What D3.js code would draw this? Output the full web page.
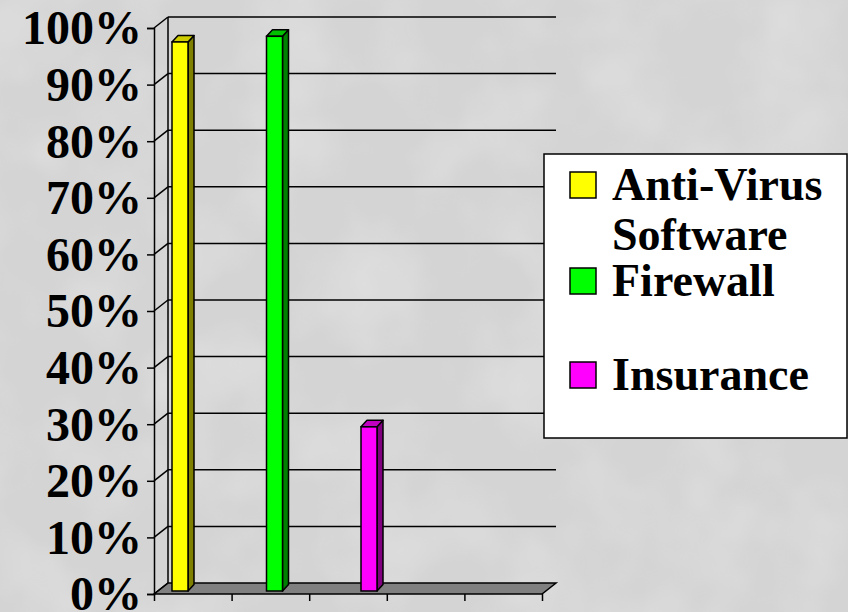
<!DOCTYPE html>
<html>
<head>
<meta charset="utf-8">
<script src="https://cdn.jsdelivr.net/npm/d3@7"></script>
<style>
  html, body { margin: 0; padding: 0; background: #d9d9d9; }
  svg { display: block; }
</style>
</head>
<body>
<div id="chart"></div>
<script>
'use strict';
// values
const series = ["Anti-Virus Software", "Firewall", "Insurance"];
const values = [97, 98, 29];
const frontColors = ["#ffff00", "#00ff00", "#ff00ff"];
const sideColors = ["#808000", "#008000", "#800080"];
const topColors = ["#cccc00", "#00c000", "#c000c0"];
const yTicks = [0, 10, 20, 30, 40, 50, 60, 70, 80, 90, 100];
const legendLines = [["Anti-Virus", "Software"], ["Firewall"], ["Insurance"]];

const W = 848, H = 612;
const FONT = "'Liberation Serif', 'Times New Roman', Times, serif";
const svg = d3.select("#chart").append("svg").attr("width", W).attr("height", H);

// mottled grey backdrop
const defs = svg.append("defs");
const filt = defs.append("filter").attr("id", "mottle").attr("x", 0).attr("y", 0).attr("width", 1).attr("height", 1);
filt.append("feTurbulence").attr("type", "fractalNoise").attr("baseFrequency", 0.012).attr("numOctaves", 3).attr("seed", 4);
filt.append("feColorMatrix").attr("type", "matrix")
  .attr("values", "0 0 0 0 1  0 0 0 0 1  0 0 0 0 1  0.9 0 0 0 -0.35");
svg.append("rect").attr("width", W).attr("height", H).attr("fill", "#d4d4d4");
svg.append("rect").attr("width", W).attr("height", H).attr("filter", "url(#mottle)").attr("opacity", 0.5);

// front plane geometry
const x0 = 154, xEnd = 542;
const depth = { dx: 14, dy: -11 };
const y = d3.scaleLinear().domain([0, 100]).range([594, 28]);
const xCat = d3.scaleLinear().domain([0, 5]).range([x0, xEnd]);
const xBar = d3.scalePoint().domain(series).range([176, 365]);
const barW = 16;
const barOff = { dx: 4, dy: -3 };
const barDepth = { dx: 6, dy: -6.5 };

const g = svg.append("g");
const line = d3.line();

// floor
g.append("path")
  .attr("d", line([[x0, y(0)], [x0 + depth.dx, y(0) + depth.dy],
    [xEnd + depth.dx, y(0) + depth.dy], [xEnd, y(0)]]) + "Z")
  .attr("fill", "#808080").attr("stroke", "#000").attr("stroke-width", 1.5);

// back wall gridlines and left wall
yTicks.forEach(function (v) {
  if (v > 0) {
    g.append("path")
      .attr("d", line([[x0 + depth.dx, y(v) + depth.dy], [xEnd + depth.dx, y(v) + depth.dy]]))
      .attr("stroke", "#000").attr("stroke-width", 1.5).attr("fill", "none");
  }
  g.append("path")
    .attr("d", line([[x0, y(v)], [x0 + depth.dx, y(v) + depth.dy]]))
    .attr("stroke", "#000").attr("stroke-width", 1.5).attr("fill", "none");
});
g.append("path")
  .attr("d", line([[x0 + depth.dx, y(0) + depth.dy], [x0 + depth.dx, y(100) + depth.dy]]))
  .attr("stroke", "#000").attr("stroke-width", 1.5);

// y axis
const yAxis = g.append("g").attr("transform", "translate(" + x0 + ",0)")
  .call(d3.axisLeft(y).tickValues(yTicks).tickSize(7).tickPadding(5).tickFormat(d => d + "%"));
yAxis.selectAll("path, line").attr("stroke", "#000").attr("stroke-width", 1.5);
yAxis.selectAll("text")
  .attr("font-family", FONT)
  .attr("font-weight", "bold").attr("font-size", 48).attr("fill", "#000")
  .attr("dy", "0.33em");

// x axis ticks (no labels)
const xAxis = g.append("g").attr("transform", "translate(0," + y(0) + ")")
  .call(d3.axisBottom(xCat).ticks(5).tickSize(7).tickFormat(""));
xAxis.select(".domain").remove();
xAxis.selectAll("line").attr("stroke", "#000").attr("stroke-width", 1.5);

// bars
series.forEach(function (s, i) {
  const left = xBar(s) - barW / 2 + barOff.dx;
  const right = left + barW;
  const bottom = y(0) + barOff.dy;
  const top = y(values[i]) + barOff.dy;
  const bar = g.append("g");
  bar.append("path")
    .attr("d", line([[right, bottom], [right + barDepth.dx, bottom + barDepth.dy],
      [right + barDepth.dx, top + barDepth.dy], [right, top]]) + "Z")
    .attr("fill", sideColors[i]).attr("stroke", "#000").attr("stroke-width", 1.5).attr("stroke-linejoin", "round");
  bar.append("path")
    .attr("d", line([[left, top], [left + barDepth.dx, top + barDepth.dy],
      [right + barDepth.dx, top + barDepth.dy], [right, top]]) + "Z")
    .attr("fill", topColors[i]).attr("stroke", "#000").attr("stroke-width", 1.5).attr("stroke-linejoin", "round");
  bar.append("rect")
    .attr("x", left).attr("y", top).attr("width", barW).attr("height", bottom - top)
    .attr("fill", frontColors[i]).attr("stroke", "#000").attr("stroke-width", 1.5);
});

// legend
const legend = svg.append("g").attr("transform", "translate(544,154)");
legend.append("rect").attr("width", 303).attr("height", 284)
  .attr("fill", "#fff").attr("stroke", "#000").attr("stroke-width", 1.5);
const baselines = [46, 142, 236];
legendLines.forEach(function (lines, i) {
  legend.append("rect")
    .attr("x", 26).attr("y", baselines[i] - 28).attr("width", 26).attr("height", 26)
    .attr("fill", frontColors[i]).attr("stroke", "#000").attr("stroke-width", 1.5);
  const t = legend.append("text")
    .attr("x", 68).attr("y", baselines[i])
    .attr("font-family", FONT)
    .attr("font-weight", "bold").attr("font-size", 46).attr("fill", "#000");
  lines.forEach(function (l, j) {
    t.append("tspan").attr("x", 68).attr("dy", j === 0 ? 0 : 50).text(l);
  });
});
</script>
</body>
</html>
